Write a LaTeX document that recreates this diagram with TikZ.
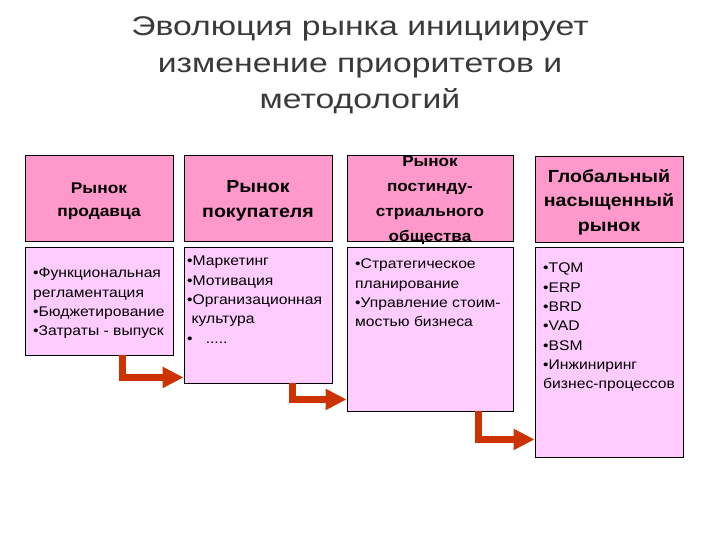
\documentclass[tikz,border=0pt]{standalone}
\usepackage{fontspec}
\setmainfont{Liberation Sans}
\newfontfamily\titlefont[FakeStretch=1.25]{Liberation Sans}
\newfontfamily\widefont[FakeStretch=1.12]{Liberation Sans}
\usetikzlibrary{arrows.meta,positioning}
\definecolor{head}{HTML}{FF99CC}
\definecolor{body}{HTML}{FFCCFF}
\definecolor{rust}{HTML}{CC3300}
\definecolor{ink}{HTML}{3A3A3A}
\tikzset{
  hbox/.style={draw=black,line width=0.9pt,fill=head,minimum width=148pt,minimum height=86pt,inner sep=0pt},
  htxt/.style={align=center,inner sep=0pt,font=\widefont\fontsize{17.5}{24.5}\selectfont\bfseries},
  bbox/.style={draw=black,line width=0.9pt,fill=body,minimum width=148pt,inner sep=0pt},
  btxt/.style={anchor=north west,inner sep=0pt,align=left,font=\widefont\fontsize{14}{19.3}\selectfont},
  ar/.style={-{Triangle[length=21pt,width=20pt]},line width=7pt,draw=rust,line join=miter},
}

\begin{document}
\begin{tikzpicture}[x=1pt,y=-1pt]
\useasboundingbox (0,0) rectangle (720,540);
\node[align=center,anchor=north,inner sep=0pt,text=ink,font=\titlefont\fontsize{27}{36.5}\selectfont] (ttl) at (360,16.5)
 {Эволюция рынка инициирует\\изменение приоритетов и\\методологий};
% market headers
\node[hbox] (h1) at (99,198) {};
\node[hbox] (h2) at (258,198) {};
\node[hbox,minimum width=166pt] (h3) at (430,198.5) {};
\node[hbox] (h4) at (609,199) {};
\node[htxt,font=\widefont\fontsize{15.5}{23}\selectfont\bfseries] (h1t) at ([yshift=-3pt]h1) {Рынок\\продавца};
\node[htxt] (h2t) at ([yshift=-3pt]h2) {Рынок\\покупателя};
\node[htxt,font=\widefont\fontsize{15.3}{25}\selectfont\bfseries] (h3t) at ([yshift=-1.5pt]h3) {Рынок\\постинду-\\стриального\\общества};
\node[htxt] (h4t) at ([yshift=-3pt]h4) {Глобальный\\насыщенный\\рынок};
% bodies
\node[bbox,minimum height=108pt] (b1) at (99,301) {};
\node[bbox,minimum height=136pt] (b2) at (258,315) {};
\node[bbox,minimum height=164pt,minimum width=166pt] (b3) at (430,329) {};
\node[bbox,minimum height=210pt] (b4) at (609,352) {};
\node[btxt] (t1) at (33,268) {•Функциональная\\регламентация\\•Бюджетирование\\•Затраты - выпуск};
\node[btxt] (t2) at (187,256) {•Маркетинг\\•Мотивация\\•Организационная\\\ культура\\•\ \ \ .....};
\node[btxt] (t3) at (355,259) {•Стратегическое\\планирование\\•Управление стоим-\\мостью бизнеса};
\node[btxt] (t4) at (543,263) {•TQM\\•ERP\\•BRD\\•VAD\\•BSM\\•Инжиниринг\\бизнес-процессов};
% steps
\draw[ar] ([xshift=-51pt]b1.south east) |- ([yshift=6pt]b2.south west);
\draw[ar] ([xshift=-40pt]b2.south east) |- ([yshift=12pt]b3.south west);
\draw[ar] ([xshift=-35pt]b3.south east) |- ([yshift=18pt]b4.south west);
\end{tikzpicture}
\end{document}
